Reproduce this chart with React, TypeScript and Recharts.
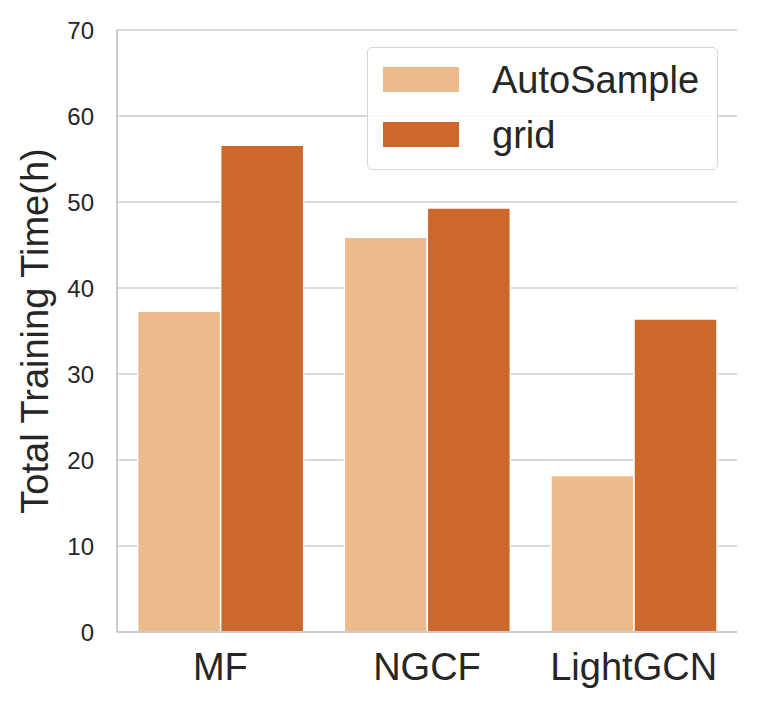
import React from 'react';
import {
  BarChart,
  Bar,
  XAxis,
  YAxis,
  CartesianGrid,
  Legend,
} from 'recharts';

const models = ['MF', 'NGCF', 'LightGCN'];
const autoSampleHours = [37.3, 45.9, 18.2];
const gridHours = [56.6, 49.3, 36.4];
const yTicks = [0, 10, 20, 30, 40, 50, 60, 70];

const LIGHT = '#EDBA8C';
const DARK = '#CD672B';
const SPINE = '#CCCCCC';
const TEXT = '#262626';
const FONT = '"Liberation Sans", Arial, Helvetica, sans-serif';

const chartData = models.map((m, i) => ({
  model: m,
  AutoSample: autoSampleHours[i],
  grid: gridHours[i],
}));

const LegendBox = ({ payload }: any) => (
  <div
    style={{
      width: 351,
      height: 123,
      boxSizing: 'border-box',
      border: '1.5px solid #D6D6D6',
      borderRadius: 5,
      background: 'rgba(255,255,255,0.8)',
      paddingTop: 4,
      fontFamily: FONT,
    }}
  >
    {(payload || []).map((entry: any) => (
      <div key={entry.value} style={{ display: 'flex', alignItems: 'center', height: 55 }}>
        <span
          style={{
            display: 'inline-block',
            width: 76,
            height: 25,
            marginLeft: 15,
            background: entry.color,
          }}
        />
        <span style={{ marginLeft: 33, fontSize: 38, lineHeight: '38px', color: TEXT }}>
          {entry.value}
        </span>
      </div>
    ))}
  </div>
);

// rotated axis title, centred on the plot height
const YLabel = ({ viewBox }: any) => {
  const cy = viewBox.y + viewBox.height / 2;
  const x = 48;
  return (
    <text
      x={x}
      y={cy}
      transform={`rotate(-90, ${x}, ${cy})`}
      textAnchor="middle"
      fill={TEXT}
      fontSize={38}
      fontFamily={FONT}
    >
      Total Training Time(h)
    </text>
  );
};

export default function App() {
  return (
    <div style={{ position: 'absolute', left: 0, top: 0, background: '#fff' }}>
      <BarChart
        width={757}
        height={712}
        data={chartData}
        margin={{ top: 30, right: 20, bottom: 0, left: 0 }}
        barCategoryGap="10%"
        barGap={0}
      >
        <CartesianGrid vertical={false} stroke={SPINE} strokeWidth={1.5} />
        <XAxis
          dataKey="model"
          height={80}
          tickLine={false}
          tickSize={0}
          tickMargin={21}
          axisLine={{ stroke: SPINE, strokeWidth: 2 }}
          tick={{ fill: TEXT, fontSize: 38, fontFamily: FONT }}
        />
        <XAxis
          xAxisId="top"
          dataKey="model"
          orientation="top"
          height={0}
          tick={false}
          tickLine={false}
          axisLine={{ stroke: SPINE, strokeWidth: 2 }}
        />
        <YAxis
          width={117}
          domain={[0, 70]}
          ticks={yTicks}
          interval={0}
          tickLine={false}
          tickSize={0}
          tickMargin={23}
          axisLine={{ stroke: SPINE, strokeWidth: 2 }}
          tick={{ fill: TEXT, fontSize: 24, fontFamily: FONT }}
          label={<YLabel />}
        />
        <YAxis
          yAxisId="right"
          orientation="right"
          width={0}
          domain={[0, 70]}
          tick={false}
          tickLine={false}
          axisLine={{ stroke: SPINE, strokeWidth: 2 }}
        />
        <Legend
          layout="horizontal"
          verticalAlign="middle"
          align="center"
          wrapperStyle={{ left: 367, top: 47, width: 351 }}
          content={<LegendBox />}
        />
        <Bar dataKey="AutoSample" fill={LIGHT} stroke="#fff" strokeWidth={1.5} isAnimationActive={false} />
        <Bar dataKey="grid" fill={DARK} stroke="#fff" strokeWidth={1.5} isAnimationActive={false} />
      </BarChart>
    </div>
  );
}
